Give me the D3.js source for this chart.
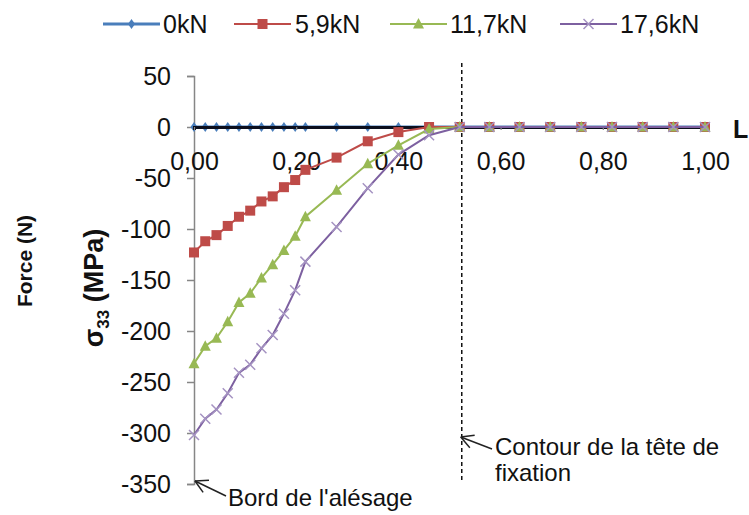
<!DOCTYPE html>
<html><head><meta charset="utf-8">
<script src="https://cdn.jsdelivr.net/npm/d3@7/dist/d3.min.js"></script>
<style>
body{margin:0;background:#fff;}
svg{display:block;font-family:Arial,"Liberation Sans",sans-serif;}
</style></head>
<body>
<script>
// ---- data ----
const xValues = [0, 0.022, 0.044, 0.066, 0.088, 0.110, 0.132, 0.154, 0.176, 0.198, 0.218,
  0.279, 0.340, 0.400, 0.460, 0.520, 0.578, 0.637, 0.697, 0.758, 0.818, 0.878, 0.938, 1.0];
const series0kN  = [0,0,0,0,0,0,0,0,0,0,0,0,0,0,0,0,0,0,0,0,0,0,0,0];
const series5_9kN  = [-123,-112,-106,-97,-88,-82,-73,-68,-59,-52,-42,-30,-14,-5,0,0,0,0,0,0,0,0,0,0];
const series11_7kN = [-232,-215,-207,-191,-172,-163,-148,-135,-121,-107,-88,-62,-36,-18,-2,0,0,0,0,0,0,0,0,0];
const series17_6kN = [-302,-286,-277,-261,-241,-233,-217,-204,-183,-160,-132,-98,-60,-27,-8,0,0,0,0,0,0,0,0,0];
const seriesNames = ["0kN", "5,9kN", "11,7kN", "17,6kN"];
const xTicks = [0, 0.2, 0.4, 0.6, 0.8, 1.0];
const xTickLabels = ["0,00", "0,20", "0,40", "0,60", "0,80", "1,00"];
const yTicks = [50, 0, -50, -100, -150, -200, -250, -300, -350];
const fixationX = 0.524;

const W = 749, H = 515;
const svg = d3.select("body").append("svg").attr("width", W).attr("height", H);

const x = d3.scaleLinear().domain([0, 1]).range([194, 705]);
const y = d3.scaleLinear().domain([-350, 50]).range([484, 76]);

const styles = [
  {name: seriesNames[0], data: series0kN, color: "#4a7ebb", marker: "diamond", lw: 3},
  {name: seriesNames[1], data: series5_9kN, color: "#be4b48", marker: "square", lw: 2},
  {name: seriesNames[2], data: series11_7kN, color: "#98b954", marker: "triangle", lw: 2},
  {name: seriesNames[3], data: series17_6kN, color: "#7d60a0", marker: "cross", lw: 2}
];

function drawMarker(g, type, cx, cy, color) {
  if (type === "diamond") {
    g.append("path").attr("d", `M${cx},${cy-5}L${cx+3.5},${cy}L${cx},${cy+5}L${cx-3.5},${cy}Z`).attr("fill", color);
  } else if (type === "square") {
    g.append("rect").attr("x", cx-5).attr("y", cy-5).attr("width", 10).attr("height", 10).attr("fill", color);
  } else if (type === "triangle") {
    g.append("path").attr("d", `M${cx},${cy-6}L${cx+5.5},${cy+4.5}L${cx-5.5},${cy+4.5}Z`).attr("fill", color);
  } else if (type === "cross") {
    g.append("path").attr("d", `M${cx-5},${cy-5}L${cx+5},${cy+5}M${cx-5},${cy+5}L${cx+5},${cy-5}`)
      .attr("stroke", "#a593c2").attr("stroke-width", 1.5).attr("fill", "none");
  }
}

// Y axis
const yAxis = svg.append("g").attr("transform", `translate(${x(0)},0)`)
  .call(d3.axisLeft(y).tickValues(yTicks).tickSize(7).tickPadding(16).tickFormat(d => d));
yAxis.select(".domain").attr("stroke", "#868686").attr("stroke-width", 1.5);
yAxis.selectAll(".tick line").attr("stroke", "#868686").attr("stroke-width", 1.5);
yAxis.selectAll("text").attr("font-size", 25).attr("fill", "#111").attr("font-family", "Arial, 'Liberation Sans', sans-serif");

// dashed line
svg.append("line").attr("x1", x(fixationX)).attr("x2", x(fixationX)).attr("y1", 63).attr("y2", 481)
  .attr("stroke", "#111").attr("stroke-width", 1.5).attr("stroke-dasharray", "4,3");

// blue series (under axis)
const line = d3.line().x((d, i) => x(xValues[i])).y(d => y(d));
function drawSeries(s) {
  const g = svg.append("g");
  g.append("path").datum(s.data).attr("d", line).attr("fill", "none").attr("stroke", s.color).attr("stroke-width", s.lw);
  s.data.forEach((v, i) => drawMarker(g, s.marker, x(xValues[i]), y(v), s.color));
}
drawSeries(styles[0]);

// X axis
const xAxis = svg.append("g").attr("transform", `translate(0,${y(0)})`)
  .call(d3.axisBottom(x).tickValues(xTicks).tickSize(3).tickPadding(22).tickFormat((d, i) => xTickLabels[i]));
xAxis.select(".domain").attr("stroke", "#0b0f1e").attr("stroke-width", 3);
xAxis.selectAll(".tick line").attr("stroke", "#868686").attr("stroke-width", 1.2);
xAxis.selectAll("text").attr("font-size", 25).attr("fill", "#111").attr("font-family", "Arial, 'Liberation Sans', sans-serif");

drawSeries(styles[1]);
drawSeries(styles[2]);
drawSeries(styles[3]);

// L label
svg.append("text").attr("x", 733).attr("y", 138).attr("font-size", 25).attr("font-weight", "bold").attr("fill", "#111").text("L");

// Legend
const legendPos = [{lx1: 103, lx2: 160, tx: 163}, {lx1: 234, lx2: 291, tx: 295}, {lx1: 390, lx2: 447, tx: 450}, {lx1: 560, lx2: 617, tx: 620}];
styles.forEach((s, i) => {
  const p = legendPos[i];
  const g = svg.append("g");
  g.append("line").attr("x1", p.lx1).attr("x2", p.lx2).attr("y1", 24).attr("y2", 24).attr("stroke", s.color).attr("stroke-width", s.lw);
  drawMarker(g, s.marker, (p.lx1 + p.lx2) / 2, 24, s.color);
  g.append("text").attr("x", p.tx).attr("y", 33).attr("font-size", 25).attr("fill", "#111").text(s.name);
});

// Axis titles
const yt = svg.append("text").attr("transform", "translate(103,288) rotate(-90)").attr("text-anchor", "middle")
  .attr("font-size", 27).attr("font-weight", "bold").attr("fill", "#111");
yt.append("tspan").text("σ");
yt.append("tspan").attr("font-size", 17).attr("dy", 6).text("33");
yt.append("tspan").attr("dy", -6).text(" (MPa)");

svg.append("text").attr("transform", "translate(32,261) rotate(-90)").attr("text-anchor", "middle")
  .attr("font-size", 21).attr("font-weight", "bold").attr("fill", "#111").text("Force (N)");

// Annotations
function arrow(tipX, tipY, endX, endY) {
  const g = svg.append("g").attr("stroke", "#222").attr("stroke-width", 1.5).attr("fill", "none");
  g.append("line").attr("x1", tipX).attr("y1", tipY).attr("x2", endX).attr("y2", endY);
  const ang = Math.atan2(endY - tipY, endX - tipX);
  const L = 14, spread = 0.5;
  [ang - spread, ang + spread].forEach(a => {
    g.append("line").attr("x1", tipX).attr("y1", tipY).attr("x2", tipX + L * Math.cos(a)).attr("y2", tipY + L * Math.sin(a));
  });
}
arrow(x(0) + 1, 481, 226, 496);
arrow(x(fixationX) - 1, 437, 492, 449);

svg.append("text").attr("x", 228).attr("y", 506).attr("font-size", 24).attr("fill", "#111").text("Bord de l'alésage");
svg.append("text").attr("x", 495).attr("y", 455).attr("font-size", 24).attr("fill", "#111").text("Contour de la tête de");
svg.append("text").attr("x", 495).attr("y", 481).attr("font-size", 24).attr("fill", "#111").text("fixation");
</script>
</body></html>
